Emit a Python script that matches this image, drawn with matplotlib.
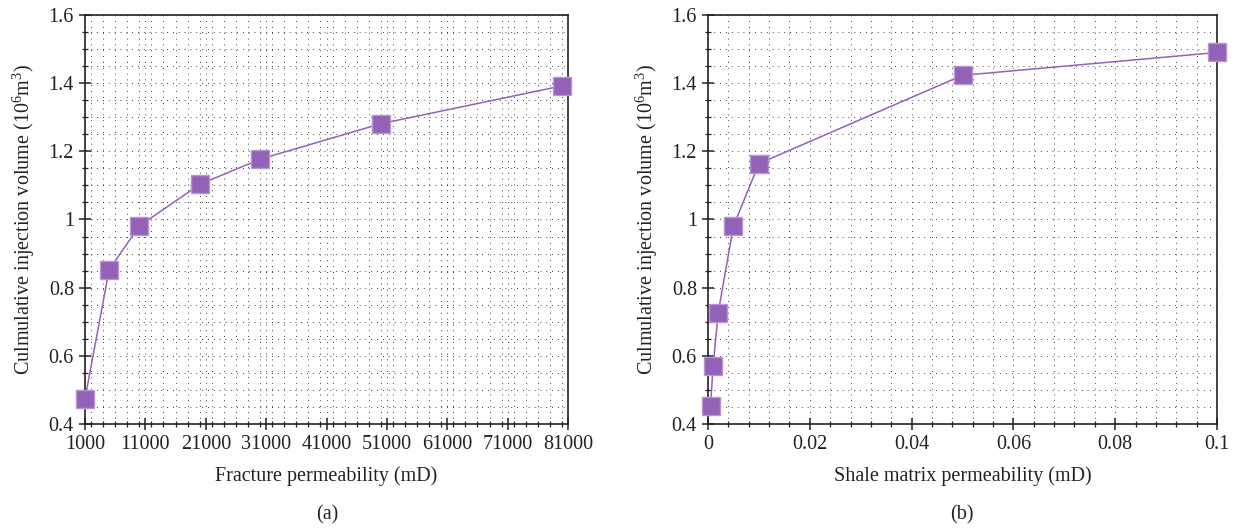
import matplotlib.pyplot as plt
from matplotlib.ticker import MultipleLocator

# data
frac_perm = [1000, 5000, 10000, 20000, 30000, 50000, 80000]
frac_vol = [0.474, 0.853, 0.981, 1.103, 1.177, 1.281, 1.392]

shale_perm = [0.0005, 0.001, 0.002, 0.005, 0.01, 0.05, 0.1]
shale_vol = [0.452, 0.570, 0.726, 0.981, 1.164, 1.423, 1.490]

frac_ticks = [1000, 11000, 21000, 31000, 41000, 51000, 61000, 71000, 81000]
shale_ticks = [0, 0.02, 0.04, 0.06, 0.08, 0.1]
shale_labels = ['0', '0.02', '0.04', '0.06', '0.08', '0.1']
y_ticks = [0.4, 0.6, 0.8, 1.0, 1.2, 1.4, 1.6]
y_labels = ['0.4', '0.6', '0.8', '1', '1.2', '1.4', '1.6']

purple = '#9461b8'
ylab = r'Culmulative injection volume ($\mathregular{10^6m^3}$)'
fs = 14.5

plt.rcParams['font.family'] = ['Liberation Serif', 'DejaVu Serif']
plt.rcParams['mathtext.fontset'] = 'custom'
plt.rcParams['mathtext.rm'] = 'Liberation Serif'

fig = plt.figure(figsize=(12.35, 5.31), dpi=100)
W, H = 1235, 531
ax1 = fig.add_axes([85 / W, 1 - 424 / H, (568 - 85) / W, (424 - 15) / H])
ax2 = fig.add_axes([708 / W, 1 - 424 / H, (1217 - 708) / W, (424 - 15) / H])


def style(ax):
    ax.set_ylim(0.4, 1.6)
    ax.set_yticks(y_ticks)
    ax.set_yticklabels(y_labels)
    ax.yaxis.set_minor_locator(MultipleLocator(0.05))
    ax.tick_params(which='major', direction='inout', length=8, width=1.1,
                   labelsize=fs, colors='#222222', pad=4)
    ax.tick_params(which='minor', direction='inout', length=5, width=0.9,
                   colors='#222222')
    ax.grid(True, which='both', color='black', linestyle=(0, (1, 6)),
            linewidth=0.6)
    ax.set_axisbelow(True)
    for s in ax.spines.values():
        s.set_linewidth(1.2)
        s.set_color('#222222')
    ax.set_ylabel(ylab, fontsize=fs, color='#222222', labelpad=8)


ax1.plot(frac_perm, frac_vol, color=purple, linewidth=1.1, marker='s',
         markersize=13, markerfacecolor=purple, markeredgecolor='#b596d4',
         markeredgewidth=1, clip_on=False, zorder=3)
ax1.set_xlim(1000, 81000)
ax1.set_xticks(frac_ticks)
ax1.xaxis.set_minor_locator(MultipleLocator(2000))
style(ax1)
ax1.set_xlabel('Fracture permeability (mD)', fontsize=fs, color='#222222',
               labelpad=9)

ax2.plot(shale_perm, shale_vol, color=purple, linewidth=1.1, marker='s',
         markersize=13, markerfacecolor=purple, markeredgecolor='#b596d4',
         markeredgewidth=1, clip_on=False, zorder=3)
ax2.set_xlim(0, 0.1)
ax2.set_xticks(shale_ticks)
ax2.set_xticklabels(shale_labels)
ax2.xaxis.set_minor_locator(MultipleLocator(0.004))
style(ax2)
ax2.set_xlabel('Shale matrix permeability (mD)', fontsize=fs, color='#222222',
               labelpad=9)

fig.text(327 / W, 1 - 515 / H, '(a)', ha='center', va='center', fontsize=fs,
         color='#222222')
fig.text(962 / W, 1 - 515 / H, '(b)', ha='center', va='center', fontsize=fs,
         color='#222222')

fig.savefig('out.png', dpi=100)
